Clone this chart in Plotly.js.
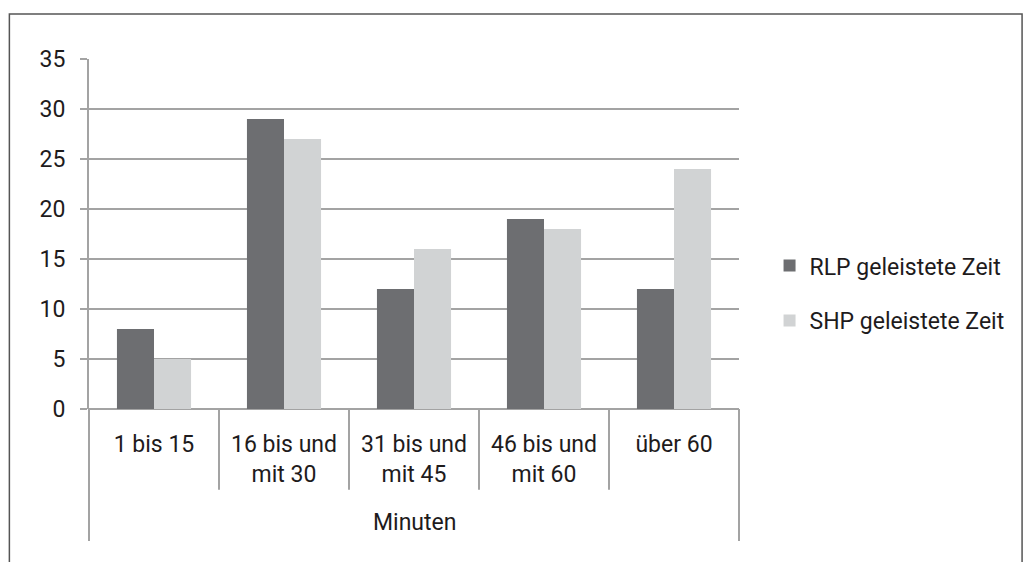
<!DOCTYPE html>
<html>
<head>
<meta charset="utf-8">
<script src="https://cdn.plot.ly/plotly-3.0.1.min.js"></script>
<style>html,body{margin:0;padding:0;background:#fff;}#chart{width:1024px;height:562px;}</style>
</head>
<body>
<div id="chart"></div>
<script>
const categories = ["1 bis 15", "16 bis und<br>mit 30", "31 bis und<br>mit 45", "46 bis und<br>mit 60", "über 60"];
const groupLabel = "Minuten";
const rlpName = "RLP geleistete Zeit";
const shpName = "SHP geleistete Zeit";
const rlpValues = [8, 29, 12, 19, 12];
const shpValues = [5, 27, 16, 18, 24];
const yTicks = [0, 5, 10, 15, 20, 25, 30, 35];

const FONT = "Roboto, sans-serif";
const FS = 23;
const TXT = "#1e1b1c";
const LINE = "#a3a3a3";
const idx = categories.map((_, i) => i);

const traces = [
  {type: "bar", name: rlpName, x: idx, y: rlpValues, marker: {color: "#6d6e71"}, legendgroup: "a", hoverinfo: "y"},
  {type: "bar", name: shpName, x: idx, y: shpValues, marker: {color: "#d1d3d4"}, legendgroup: "b", hoverinfo: "y"}
];

const shapes = [];
const n = categories.length;
for (let i = 0; i <= n; i++) {
  const edge = (i === 0 || i === n);
  shapes.push({type: "line", xref: "paper", yref: "paper", x0: i / n, x1: i / n, y0: 0, y1: edge ? -0.377 : -0.231,
    line: {color: LINE, width: 2}});
}
shapes.push({type: "rect", xref: "paper", yref: "paper", x0: -0.1225, x1: 1.4355, y0: 1.1286, y1: -0.7,
  line: {color: "#555", width: 1.5}, fillcolor: "rgba(0,0,0,0)", layer: "below"});

const layout = {
  width: 1024, height: 562,
  margin: {l: 89, r: 285, t: 59, b: 153},
  paper_bgcolor: "#fff", plot_bgcolor: "#fff",
  font: {family: FONT, size: FS, color: TXT},
  barmode: "group", bargap: 0.43, bargroupgap: 0,
  showlegend: true,
  legend: {x: 1.047, xanchor: "left", y: 0.331, yanchor: "middle", traceorder: "grouped", tracegroupgap: 22,
    font: {family: FONT, size: FS, color: TXT}, bgcolor: "rgba(0,0,0,0)"},
  xaxis: {range: [-0.5, n - 0.5], tickvals: idx, ticktext: categories, ticks: "", showgrid: false,
    zeroline: false, showline: false, tickfont: {family: FONT, size: FS, color: TXT}, ticklabelstandoff: 19, fixedrange: true},
  yaxis: {range: [0, 35], tickvals: yTicks, ticks: "outside", ticklen: 7, tickwidth: 2, tickcolor: LINE,
    showgrid: true, gridcolor: LINE, gridwidth: 2, zeroline: true, zerolinecolor: LINE, zerolinewidth: 2,
    showline: true, linecolor: LINE, linewidth: 2, tickfont: {family: FONT, size: FS, color: TXT}, ticklabelstandoff: 10, fixedrange: true},
  shapes: shapes,
  annotations: [{text: groupLabel, xref: "paper", yref: "paper", x: 0.5, y: -0.323, xanchor: "center", yanchor: "middle",
    showarrow: false, font: {family: FONT, size: FS, color: TXT}}]
};

Plotly.newPlot("chart", traces, layout, {displayModeBar: false, staticPlot: true});
</script>
</body>
</html>
